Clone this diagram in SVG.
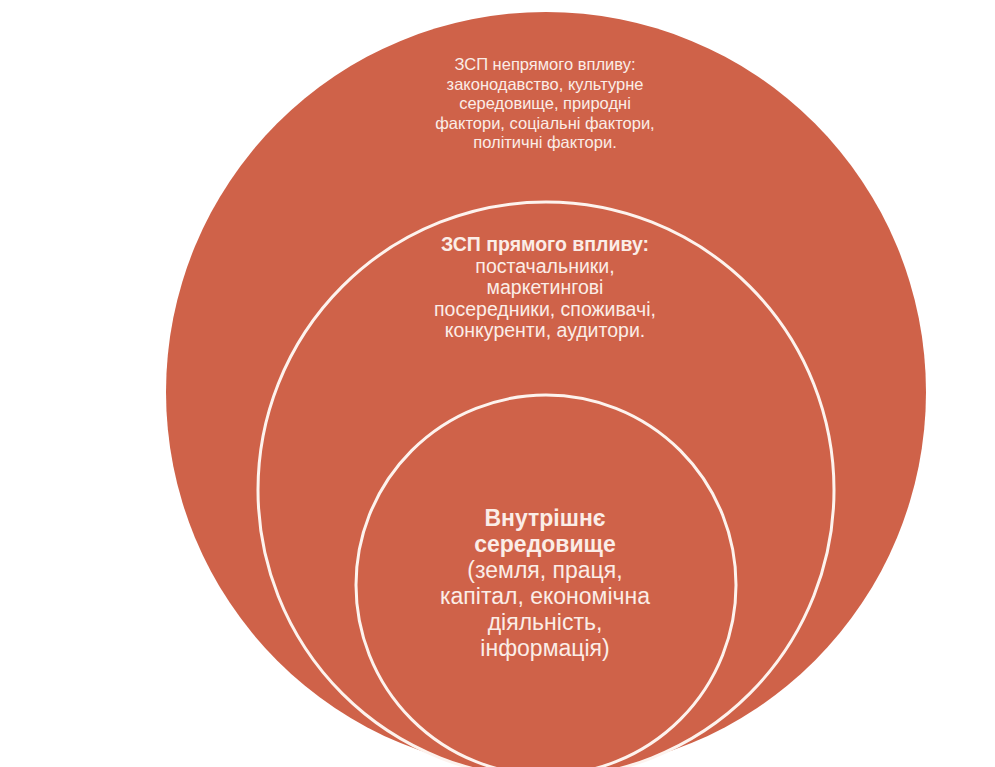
<svg xmlns="http://www.w3.org/2000/svg" width="995" height="767" viewBox="0 0 995 767">
<style>
.c{fill:#CF6249}
.in{stroke:#FDF3EE;stroke-width:3}
.t{font-family:"Liberation Sans",Arial,sans-serif;fill:#FBEDE7;text-anchor:middle}
.b{font-weight:bold}
</style>
<rect width="995" height="767" fill="#FFFFFF"/>
<g id="outer">
<circle class="c" cx="546" cy="392" r="380"/>
<text class="t" font-size="16.5"><tspan x="545" y="70">ЗСП непрямого впливу:</tspan><tspan x="545" y="89.5">законодавство, культурне</tspan><tspan x="545" y="109">середовище, природні</tspan><tspan x="545" y="128.5">фактори, соціальні фактори,</tspan><tspan x="545" y="148">політичні фактори.</tspan></text>
</g>
<g id="middle">
<circle class="c in" cx="546" cy="490" r="288"/>
<text class="t" font-size="19.5"><tspan class="b" x="545" y="251">ЗСП прямого впливу:</tspan><tspan x="545" y="272.5">постачальники,</tspan><tspan x="545" y="294">маркетингові</tspan><tspan x="545" y="315.5">посередники, споживачі,</tspan><tspan x="545" y="337">конкуренти, аудитори.</tspan></text>
</g>
<g id="inner">
<circle class="c in" cx="546" cy="585" r="190"/>
<text class="t" font-size="23"><tspan class="b" x="545" y="526">Внутрішнє</tspan><tspan class="b" x="545" y="552">середовище</tspan><tspan x="545" y="578">(земля, праця,</tspan><tspan x="545" y="604">капітал, економічна</tspan><tspan x="545" y="630">діяльність,</tspan><tspan x="545" y="656">інформація)</tspan></text>
</g>
<g id="connectors"/>
</svg>
